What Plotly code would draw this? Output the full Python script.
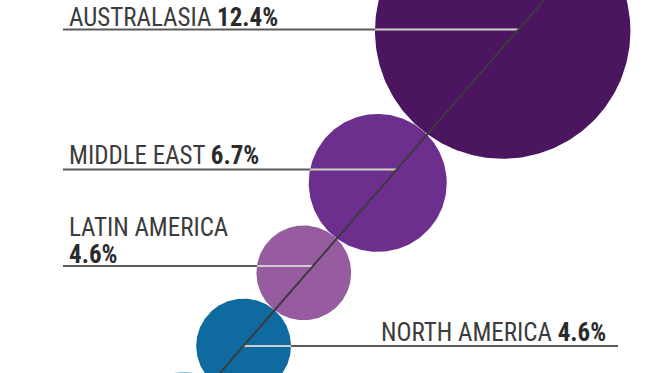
import numpy as np
import plotly.graph_objects as go

# ---------------- data ----------------
regions = ["AUSTRALASIA", "MIDDLE EAST", "LATIN AMERICA", "NORTH AMERICA", "OTHER"]
shares = [12.4, 6.7, 4.6, 4.6, 4.6]
share_labels = ["12.4%", "6.7%", "4.6%", "4.6%", ""]
colors = ["#4b1560", "#6d2f8d", "#975c9f", "#0f6a9f", "#86c3e0"]

# ---------------- layout parameters ----------------
W, H = 662, 373
K = 10.3                      # pixels of radius per percentage point
start_center = np.array([502.7, 31.0])
chain_dir = np.array([-0.635, 0.772])
chain_dir = chain_dir / np.linalg.norm(chain_dir)
diag_top = (544.0, 0.0)
diag_bottom = (220.0, 373.0)
leader_dy = [-1.5, -13.4, -6.8, 0.0]      # leader line offset from circle centre
baseline_gap = [4.5, 6.5, 4.0, 6.0]       # text baseline above leader line
label_side = ["left", "left", "left", "right"]
leader_outer_x = [63, 63, 63, 618]
label_x = [67, 67, 67, 379]
label_two_lines = [False, False, True, False]
LINE_GAP = 27
FONT = "Liberation Sans Narrow, Roboto Condensed, DejaVu Sans Condensed, Arial Narrow, sans-serif"
FS = 25
BASE_TO_BOTTOM = 8.9          # annotation box bottom below text baseline

# circle geometry from the values
radii = [K * v for v in shares]
centers = [start_center]
for i in range(1, len(shares)):
    centers.append(centers[-1] + (radii[i - 1] + radii[i]) * chain_dir)


def diag_x(y):
    (x0, y0), (x1, y1) = diag_top, diag_bottom
    return x0 + (x1 - x0) * (y - y0) / (y1 - y0)


fig = go.Figure()
theta = np.linspace(0, 2 * np.pi, 241)
for name, r, c, col in zip(regions, radii, centers, colors):
    fig.add_trace(go.Scatter(
        x=c[0] + r * np.cos(theta), y=c[1] + r * np.sin(theta),
        mode="lines", fill="toself", fillcolor=col, line=dict(width=0, color=col),
        hoverinfo="skip", name=name, showlegend=False))

annotations = []


def add_label(x, baseline, txt):
    annotations.append(dict(x=x, y=baseline + BASE_TO_BOTTOM, xref="x", yref="y", text=txt,
                            showarrow=False, xanchor="left", yanchor="bottom", align="left",
                            font=dict(family=FONT, size=FS, color="#2b2b2b")))


for i in range(4):
    cx, cy = centers[i]
    r = radii[i]
    y = cy + leader_dy[i]
    xd = diag_x(y)
    half = np.sqrt(max(r * r - (y - cy) ** 2, 0))
    edge = cx - half if label_side[i] == "left" else cx + half
    # dark leader line
    fig.add_trace(go.Scatter(x=[leader_outer_x[i], xd], y=[y, y], mode="lines",
                             line=dict(color="#5a5a5a", width=2), hoverinfo="skip", showlegend=False))
    # light part inside the bubble
    fig.add_trace(go.Scatter(x=[edge, xd], y=[y, y], mode="lines",
                             line=dict(color="rgba(255,255,255,0.7)", width=2), hoverinfo="skip",
                             showlegend=False))
    base = y - baseline_gap[i]
    name_txt = f"<span style='color:#3c3c3c'>{regions[i]}</span>"
    val_txt = f"<b>{share_labels[i]}</b>"
    if label_two_lines[i]:
        add_label(label_x[i], base - LINE_GAP, name_txt)
        add_label(label_x[i], base, val_txt)
    else:
        add_label(label_x[i], base, name_txt + " " + val_txt)

# diagonal guide line
fig.add_trace(go.Scatter(x=[diag_top[0], diag_bottom[0]], y=[diag_top[1], diag_bottom[1]],
                         mode="lines", line=dict(color="#3d3a40", width=2), hoverinfo="skip",
                         showlegend=False))

fig.update_layout(
    width=W, height=H, margin=dict(l=0, r=0, t=0, b=0),
    paper_bgcolor="white", plot_bgcolor="white",
    xaxis=dict(range=[0, W], visible=False, fixedrange=True),
    yaxis=dict(range=[H, 0], visible=False, fixedrange=True),
    annotations=annotations, showlegend=False,
)
fig.write_html("out.html", config={"displayModeBar": False},
               post_script="document.body.style.margin='0';document.body.style.padding='0';")
